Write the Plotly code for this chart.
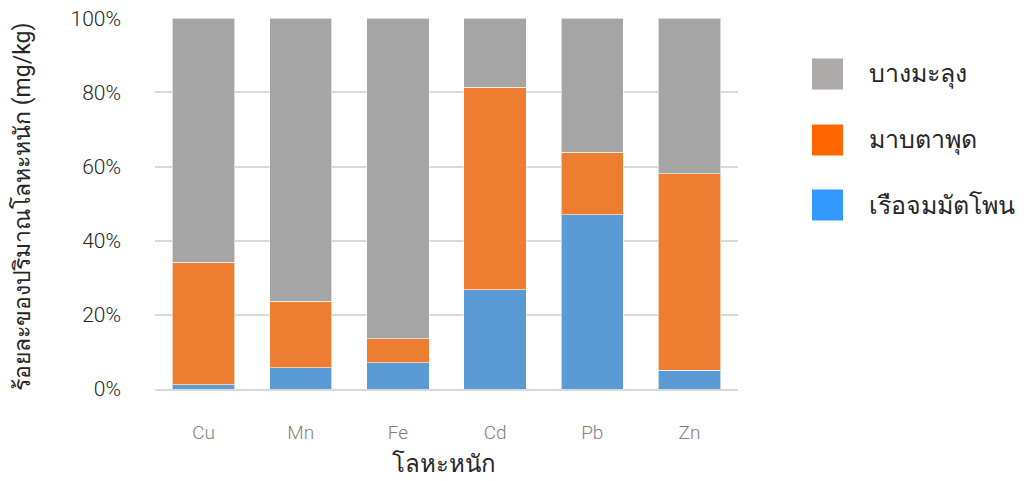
import plotly.graph_objects as go

categories = ["Cu", "Mn", "Fe", "Cd", "Pb", "Zn"]
series_names = ["เรือจมมัตโพน", "มาบตาพุด", "บางมะลุง"]
ruea_chom = [1.2, 5.7, 7.1, 26.8, 47.0, 5.0]
map_ta_phut = [33.0, 18.0, 6.4, 54.6, 16.9, 53.1]
bang_ma_lung = [65.8, 76.3, 86.5, 18.6, 36.1, 41.9]
y_ticks = [0, 20, 40, 60, 80, 100]
y_tick_labels = ["0%", "20%", "40%", "60%", "80%", "100%"]

bar_colors = ["#5B9BD5", "#ED7D31", "#A5A5A5"]
legend_colors = ["#3399FF", "#FF6600", "#ADAAA9"]
values = [ruea_chom, map_ta_phut, bang_ma_lung]

FONT = "Roboto, Noto Sans, sans-serif"
THAI_FONT = "Roboto, DejaVu Sans, sans-serif"
OFF = 8  # page body margin offset

W, H = 1027 - OFF, 481 - OFF
L, T = 155 - OFF, 18 - OFF
R = W - (738 - OFF)
B = H - (389 - OFF)
pw, ph = W - L - R, H - T - B

def px_x(px):
    return (px - OFF - L) / pw

def px_y(py):
    return (H - B - (py - OFF)) / ph

fig = go.Figure()
for name, vals, col in zip(series_names, values, bar_colors):
    fig.add_trace(go.Bar(
        x=categories, y=vals, name=name, marker_color=col,
        marker_line=dict(color="rgba(255,255,255,0.6)", width=1),
        showlegend=False,
    ))

shapes = []
annotations = []
leg_y = [205, 140, 74]
for name, col, cy in zip(series_names, legend_colors, leg_y):
    shapes.append(dict(type="rect", xref="paper", yref="paper",
                       x0=px_x(812), x1=px_x(843), y0=px_y(cy + 15.5), y1=px_y(cy - 15.5),
                       fillcolor=col, line=dict(width=0)))
    annotations.append(dict(text=name, xref="paper", yref="paper", x=px_x(867), y=px_y(cy),
                            xanchor="left", yanchor="middle", showarrow=False,
                            font=dict(size=25, color="#262626", family=THAI_FONT)))

annotations.append(dict(text="ร้อยละของปริมาณโลหะหนัก (mg/kg)", xref="paper", yref="paper",
                        x=px_x(22), y=px_y(207), textangle=-90, showarrow=False,
                        xanchor="center", yanchor="middle",
                        font=dict(size=23, color="#262626", family=THAI_FONT)))
annotations.append(dict(text="โลหะหนัก", xref="paper", yref="paper",
                        x=px_x(444), y=px_y(464), showarrow=False,
                        xanchor="center", yanchor="middle",
                        font=dict(size=24, color="#262626", family=THAI_FONT)))

fig.update_layout(
    barmode="stack", bargap=0.36,
    width=W, height=H,
    margin=dict(l=L, r=R, t=T, b=B, autoexpand=False),
    plot_bgcolor="white", paper_bgcolor="white",
    font=dict(family=FONT),
    shapes=shapes, annotations=annotations,
)
fig.update_xaxes(
    showgrid=False, showline=True, linecolor="#D9D9D9", linewidth=2,
    tickfont=dict(size=19, color="#7F7F7F", family=FONT, weight=300),
    ticks="", ticklabelstandoff=25,
)
fig.update_yaxes(
    range=[0, 100.05], tickvals=y_ticks, ticktext=y_tick_labels,
    showgrid=True, gridcolor="#D9D9D9", gridwidth=2, zeroline=False,
    tickfont=dict(size=21, color="#262626", family=FONT, weight=300),
    ticks="", ticklabelstandoff=33, ticklabeloverflow="allow",
)

fig.write_html("out.html")
